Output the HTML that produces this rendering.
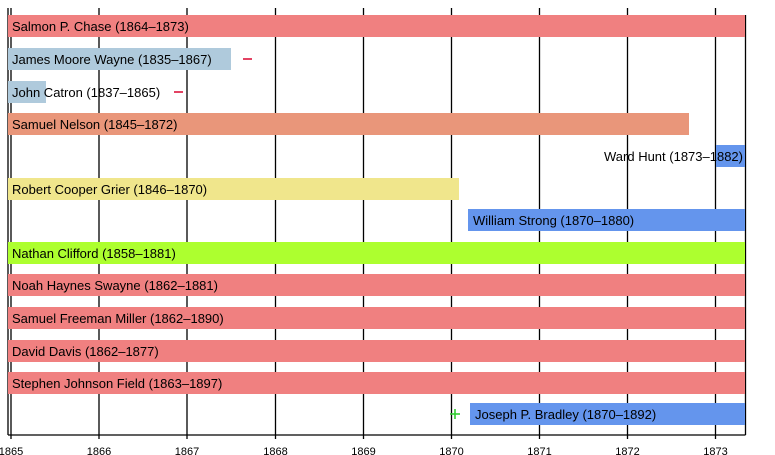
<!DOCTYPE html>
<html><head><meta charset="utf-8"><style>
html,body{margin:0;padding:0;background:#fff;}
svg{display:block;font-family:"Liberation Sans",Arial,sans-serif;}
</style></head><body>
<svg width="775" height="455" viewBox="0 0 775 455" xmlns="http://www.w3.org/2000/svg">
<g stroke="#000" stroke-width="1.3">
<line x1="11" y1="8" x2="11" y2="439"/>
<line x1="99" y1="8" x2="99" y2="439"/>
<line x1="187" y1="8" x2="187" y2="439"/>
<line x1="275.5" y1="8" x2="275.5" y2="439"/>
<line x1="363.5" y1="8" x2="363.5" y2="439"/>
<line x1="451.5" y1="8" x2="451.5" y2="439"/>
<line x1="539.5" y1="8" x2="539.5" y2="439"/>
<line x1="627.5" y1="8" x2="627.5" y2="439"/>
<line x1="715.5" y1="8" x2="715.5" y2="439"/>
<line x1="745.5" y1="15" x2="745.5" y2="435"/>
<line x1="8" y1="8" x2="8" y2="435"/>
<line x1="8" y1="435" x2="745.5" y2="435"/>
</g>
<g>
<rect x="8" y="15" width="737" height="22" fill="#F08080"/>
<rect x="8" y="48" width="223" height="22" fill="#AFCADC"/>
<rect x="8" y="81" width="38" height="22" fill="#AFCADC"/>
<rect x="8" y="113" width="681" height="22" fill="#E9967A"/>
<rect x="716" y="145" width="29" height="22" fill="#6495ED"/>
<rect x="8" y="178" width="451" height="22" fill="#F0E68C"/>
<rect x="468" y="209" width="277" height="22" fill="#6495ED"/>
<rect x="8" y="242" width="737" height="22" fill="#ADFF2F"/>
<rect x="8" y="274" width="737" height="22" fill="#F08080"/>
<rect x="8" y="307" width="737" height="22" fill="#F08080"/>
<rect x="8" y="340" width="737" height="22" fill="#F08080"/>
<rect x="8" y="372" width="737" height="22" fill="#F08080"/>
<rect x="470" y="403" width="275" height="22" fill="#6495ED"/>
</g>
<g font-size="13" fill="#000">
<text x="12" y="31">Salmon P. Chase (1864–1873)</text>
<text x="12" y="64">James Moore Wayne (1835–1867)</text>
<text x="12" y="97">John Catron (1837–1865)</text>
<text x="12" y="129">Samuel Nelson (1845–1872)</text>
<text x="743" y="161" text-anchor="end">Ward Hunt (1873–1882)</text>
<text x="12" y="194">Robert Cooper Grier (1846–1870)</text>
<text x="473" y="225">William Strong (1870–1880)</text>
<text x="12" y="258">Nathan Clifford (1858–1881)</text>
<text x="12" y="290">Noah Haynes Swayne (1862–1881)</text>
<text x="12" y="323">Samuel Freeman Miller (1862–1890)</text>
<text x="12" y="356">David Davis (1862–1877)</text>
<text x="12" y="388">Stephen Johnson Field (1863–1897)</text>
<text x="475" y="419">Joseph P. Bradley (1870–1892)</text>
</g>
<g stroke="#DC143C" stroke-width="1.6">
<line x1="243" y1="59" x2="252" y2="59"/>
<line x1="174" y1="92" x2="183" y2="92"/>
</g>
<g stroke="#32CD32" stroke-width="1.6">
<line x1="450" y1="414" x2="460" y2="414"/>
<line x1="455" y1="409" x2="455" y2="419"/>
</g>
<g font-size="11" fill="#000" text-anchor="middle">
<text x="11" y="455">1865</text>
<text x="99" y="455">1866</text>
<text x="187" y="455">1867</text>
<text x="275.5" y="455">1868</text>
<text x="363.5" y="455">1869</text>
<text x="451.5" y="455">1870</text>
<text x="539.5" y="455">1871</text>
<text x="627.5" y="455">1872</text>
<text x="715.5" y="455">1873</text>
</g>
</svg>
</body></html>
